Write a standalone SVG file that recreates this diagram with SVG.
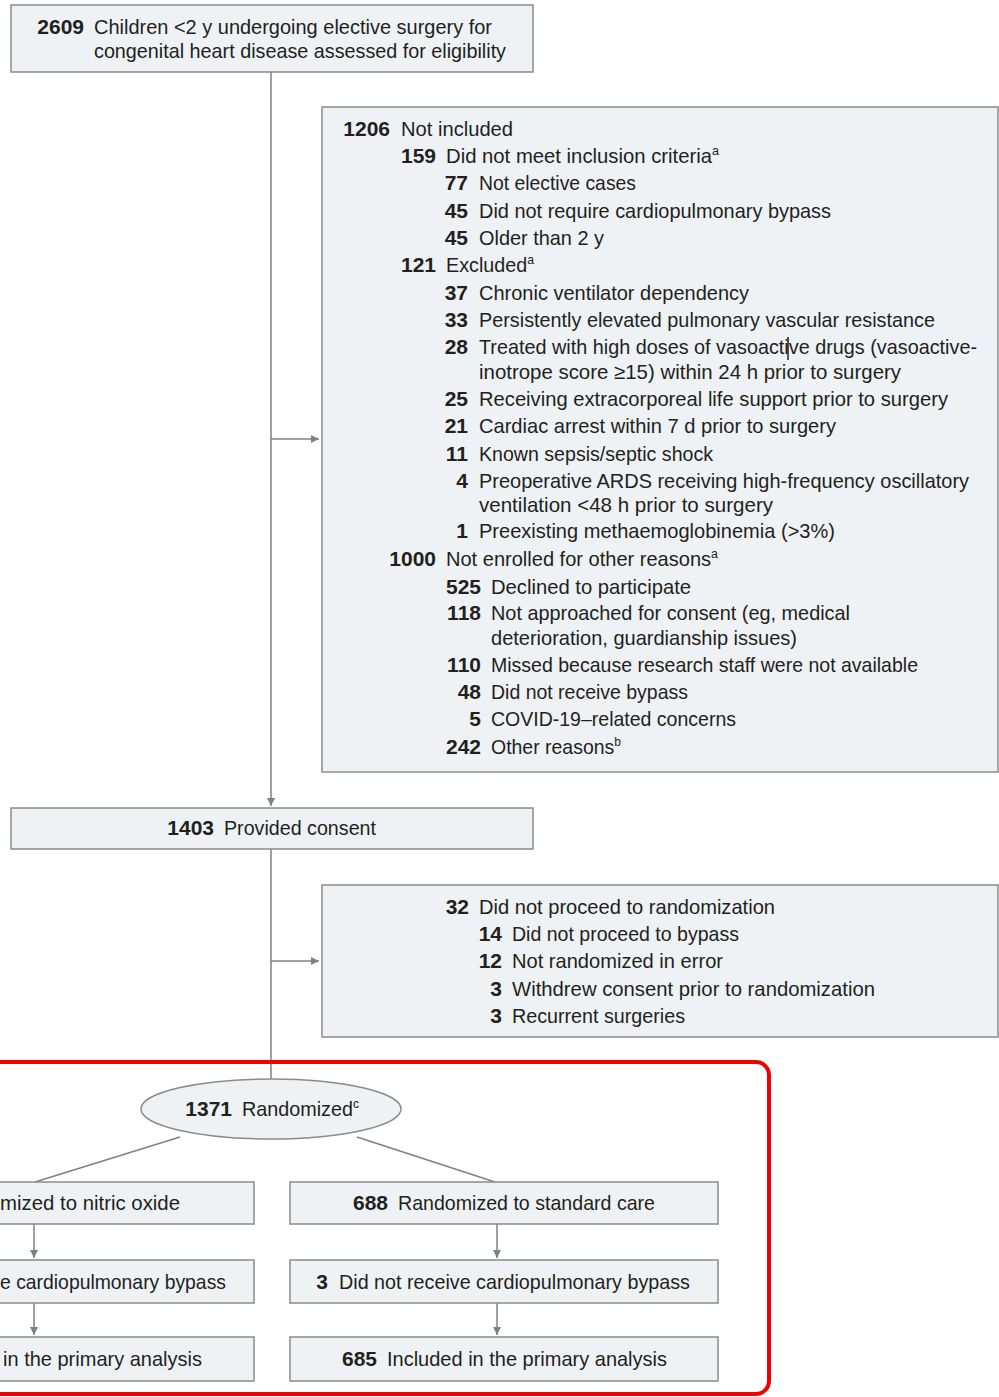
<svg xmlns="http://www.w3.org/2000/svg" width="999" height="1397" viewBox="0 0 999 1397">
<style>
.box{fill:#eef2f5;stroke:#8b8b8b;stroke-width:1.5}
.t{font-family:"Liberation Sans",Arial,sans-serif;font-size:21px;fill:#231f20}
.n{font-weight:bold;text-anchor:end}
.sup{font-size:13px}
.c{stroke:#808080;stroke-width:1.5;fill:none}
.red{fill:none;stroke:#f00000;stroke-width:4}
</style>
<defs>
<marker id="ah" markerUnits="userSpaceOnUse" markerWidth="9" markerHeight="9" refX="8" refY="4.5" orient="auto">
<path d="M0,0.5 L8,4.5 L0,8.5 Z" fill="#808080"/>
</marker>
</defs>
<rect x="0" y="0" width="999" height="1397" fill="#ffffff"/>

<g id="connectors">
<line class="c" x1="271" y1="72" x2="271" y2="806" marker-end="url(#ah)"/>
<line class="c" x1="271" y1="439" x2="319" y2="439" marker-end="url(#ah)"/>
<line class="c" x1="271" y1="849" x2="271" y2="1080"/>
<line class="c" x1="271" y1="961" x2="319" y2="961" marker-end="url(#ah)"/>
<line class="c" x1="180" y1="1137" x2="35" y2="1182"/>
<line class="c" x1="357" y1="1137" x2="495" y2="1182"/>
<line class="c" x1="34" y1="1224" x2="34" y2="1258" marker-end="url(#ah)"/>
<line class="c" x1="34" y1="1303" x2="34" y2="1335" marker-end="url(#ah)"/>
<line class="c" x1="497" y1="1224" x2="497" y2="1258" marker-end="url(#ah)"/>
<line class="c" x1="497" y1="1303" x2="497" y2="1335" marker-end="url(#ah)"/>
</g>

<g id="assessed">
<rect class="box" x="11" y="5" width="522" height="67"/>
<text class="t n" x="84" y="34">2609</text>
<text class="t" x="94" y="34" textLength="398" lengthAdjust="spacingAndGlyphs">Children &lt;2 y undergoing elective surgery for</text>
<text class="t" x="94" y="58" textLength="412" lengthAdjust="spacingAndGlyphs">congenital heart disease assessed for eligibility</text>
</g>

<g id="not-included">
<rect class="box" x="322" y="107" width="676" height="665"/>
<text class="t n" x="390" y="136">1206</text>
<text class="t" x="401" y="136" textLength="112" lengthAdjust="spacingAndGlyphs">Not included</text>

<text class="t n" x="436" y="163">159</text>
<text class="t" x="446" y="163" textLength="273" lengthAdjust="spacingAndGlyphs">Did not meet inclusion criteria<tspan class="sup" dy="-8">a</tspan></text>
<text class="t n" x="468" y="190">77</text>
<text class="t" x="479" y="190" textLength="157" lengthAdjust="spacingAndGlyphs">Not elective cases</text>
<text class="t n" x="468" y="218">45</text>
<text class="t" x="479" y="218" textLength="352" lengthAdjust="spacingAndGlyphs">Did not require cardiopulmonary bypass</text>
<text class="t n" x="468" y="245">45</text>
<text class="t" x="479" y="245" textLength="125" lengthAdjust="spacingAndGlyphs">Older than 2 y</text>

<text class="t n" x="436" y="272">121</text>
<text class="t" x="446" y="272" textLength="88" lengthAdjust="spacingAndGlyphs">Excluded<tspan class="sup" dy="-8">a</tspan></text>
<text class="t n" x="468" y="300">37</text>
<text class="t" x="479" y="300" textLength="270" lengthAdjust="spacingAndGlyphs">Chronic ventilator dependency</text>
<text class="t n" x="468" y="327">33</text>
<text class="t" x="479" y="327" textLength="456" lengthAdjust="spacingAndGlyphs">Persistently elevated pulmonary vascular resistance</text>
<text class="t n" x="468" y="354">28</text>
<text class="t" x="479" y="354" textLength="498" lengthAdjust="spacingAndGlyphs">Treated with high doses of vasoactive drugs (vasoactive-</text>
<line x1="788" y1="337" x2="788" y2="360" stroke="#231f20" stroke-width="1.5"/>
<text class="t" x="479" y="379" textLength="422" lengthAdjust="spacingAndGlyphs">inotrope score ≥15) within 24 h prior to surgery</text>
<text class="t n" x="468" y="406">25</text>
<text class="t" x="479" y="406" textLength="469" lengthAdjust="spacingAndGlyphs">Receiving extracorporeal life support prior to surgery</text>
<text class="t n" x="468" y="433">21</text>
<text class="t" x="479" y="433" textLength="357" lengthAdjust="spacingAndGlyphs">Cardiac arrest within 7 d prior to surgery</text>
<text class="t n" x="468" y="461">11</text>
<text class="t" x="479" y="461" textLength="234" lengthAdjust="spacingAndGlyphs">Known sepsis/septic shock</text>
<text class="t n" x="468" y="488">4</text>
<text class="t" x="479" y="488" textLength="490" lengthAdjust="spacingAndGlyphs">Preoperative ARDS receiving high-frequency oscillatory</text>
<text class="t" x="479" y="512" textLength="294" lengthAdjust="spacingAndGlyphs">ventilation &lt;48 h prior to surgery</text>
<text class="t n" x="468" y="538">1</text>
<text class="t" x="479" y="538" textLength="356" lengthAdjust="spacingAndGlyphs">Preexisting methaemoglobinemia (&gt;3%)</text>

<text class="t n" x="436" y="566">1000</text>
<text class="t" x="446" y="566" textLength="272" lengthAdjust="spacingAndGlyphs">Not enrolled for other reasons<tspan class="sup" dy="-8">a</tspan></text>
<text class="t n" x="481" y="594">525</text>
<text class="t" x="491" y="594" textLength="200" lengthAdjust="spacingAndGlyphs">Declined to participate</text>
<text class="t n" x="481" y="620">118</text>
<text class="t" x="491" y="620" textLength="359" lengthAdjust="spacingAndGlyphs">Not approached for consent (eg, medical</text>
<text class="t" x="491" y="645" textLength="306" lengthAdjust="spacingAndGlyphs">deterioration, guardianship issues)</text>
<text class="t n" x="481" y="672">110</text>
<text class="t" x="491" y="672" textLength="427" lengthAdjust="spacingAndGlyphs">Missed because research staff were not available</text>
<text class="t n" x="481" y="699">48</text>
<text class="t" x="491" y="699" textLength="197" lengthAdjust="spacingAndGlyphs">Did not receive bypass</text>
<text class="t n" x="481" y="726">5</text>
<text class="t" x="491" y="726" textLength="245" lengthAdjust="spacingAndGlyphs">COVID-19–related concerns</text>
<text class="t n" x="481" y="754">242</text>
<text class="t" x="491" y="754" textLength="130" lengthAdjust="spacingAndGlyphs">Other reasons<tspan class="sup" dy="-8">b</tspan></text>
</g>

<g id="consent">
<rect class="box" x="11" y="808" width="522" height="41"/>
<text class="t n" x="214" y="835">1403</text>
<text class="t" x="224" y="835" textLength="152" lengthAdjust="spacingAndGlyphs">Provided consent</text>
</g>

<g id="not-randomized">
<rect class="box" x="322" y="885" width="676" height="152"/>
<text class="t n" x="469" y="914">32</text>
<text class="t" x="479" y="914" textLength="296" lengthAdjust="spacingAndGlyphs">Did not proceed to randomization</text>
<text class="t n" x="502" y="941">14</text>
<text class="t" x="512" y="941" textLength="227" lengthAdjust="spacingAndGlyphs">Did not proceed to bypass</text>
<text class="t n" x="502" y="968">12</text>
<text class="t" x="512" y="968" textLength="211" lengthAdjust="spacingAndGlyphs">Not randomized in error</text>
<text class="t n" x="502" y="996">3</text>
<text class="t" x="512" y="996" textLength="363" lengthAdjust="spacingAndGlyphs">Withdrew consent prior to randomization</text>
<text class="t n" x="502" y="1023">3</text>
<text class="t" x="512" y="1023" textLength="173" lengthAdjust="spacingAndGlyphs">Recurrent surgeries</text>
</g>

<rect id="highlight" class="red" x="-20" y="1062" width="789" height="332" rx="13"/>

<g id="randomized">
<ellipse cx="271" cy="1109" rx="130" ry="30" fill="#eef2f5" stroke="#8b8b8b" stroke-width="1.5"/>
<text class="t n" x="232" y="1116">1371</text>
<text class="t" x="242" y="1116" textLength="117" lengthAdjust="spacingAndGlyphs">Randomized<tspan class="sup" dy="-8">c</tspan></text>
</g>

<g id="nitric-randomized">
<rect class="box" x="-180" y="1182" width="434" height="42"/>
<text class="t" x="0" y="1210" textLength="180" lengthAdjust="spacingAndGlyphs">mized to nitric oxide</text>
</g>
<g id="nitric-nobypass">
<rect class="box" x="-180" y="1260" width="434" height="43"/>
<text class="t" x="0" y="1289" textLength="226" lengthAdjust="spacingAndGlyphs">e cardiopulmonary bypass</text>
</g>
<g id="nitric-analysis">
<rect class="box" x="-180" y="1337" width="434" height="44"/>
<text class="t" x="3" y="1366" textLength="199" lengthAdjust="spacingAndGlyphs">in the primary analysis</text>
</g>

<g id="standard-randomized">
<rect class="box" x="290" y="1182" width="428" height="42"/>
<text class="t n" x="388" y="1210">688</text>
<text class="t" x="398" y="1210" textLength="257" lengthAdjust="spacingAndGlyphs">Randomized to standard care</text>
</g>
<g id="standard-nobypass">
<rect class="box" x="290" y="1260" width="428" height="43"/>
<text class="t n" x="328" y="1289">3</text>
<text class="t" x="339" y="1289" textLength="351" lengthAdjust="spacingAndGlyphs">Did not receive cardiopulmonary bypass</text>
</g>
<g id="standard-analysis">
<rect class="box" x="290" y="1337" width="428" height="44"/>
<text class="t n" x="377" y="1366">685</text>
<text class="t" x="387" y="1366" textLength="280" lengthAdjust="spacingAndGlyphs">Included in the primary analysis</text>
</g>
</svg>
